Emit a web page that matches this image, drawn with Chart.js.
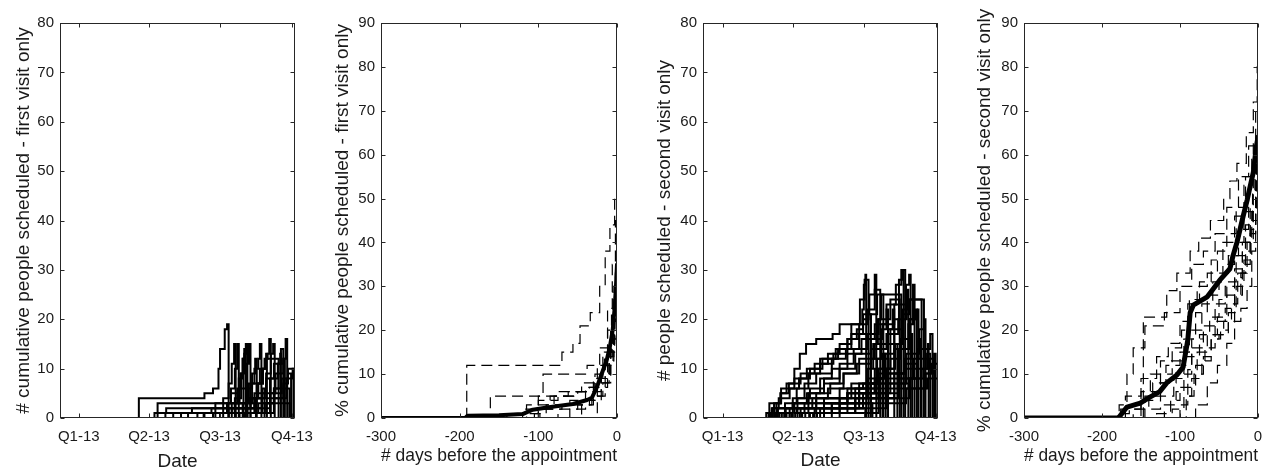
<!DOCTYPE html>
<html><head><meta charset="utf-8">
<script src="https://cdn.jsdelivr.net/npm/chart.js@4.4.0/dist/chart.umd.min.js"></script>
<style>
html,body{margin:0;padding:0;background:#fff;}
#wrap{position:relative;width:1284px;height:474px;overflow:hidden;background:#fff;}
canvas{position:absolute;top:0;}
</style></head><body>
<div id="wrap">
<canvas id="c1" width="320" height="474" style="left:0px"></canvas>
<canvas id="c2" width="320" height="474" style="left:320px"></canvas>
<canvas id="c3" width="320" height="474" style="left:640px"></canvas>
<canvas id="c4" width="324" height="474" style="left:960px"></canvas>
</div>
<script>
// ---------- tick labels ----------
const dateTickDays = [0, 90, 181, 273];               // days since 1 Jan 2013
const dateTickLabels = ['Q1-13', 'Q2-13', 'Q3-13', 'Q4-13'];

// ---------- panel 1: # cumulative people scheduled - first visit only ([day, count]) ----------
const firstVisitCounts = [
  [[-24,0],[77,4],[161,5],[172,6],[179,10],[181,14],[187,18],[190,19],[192,0]],
  [[-24,0],[111,1],[170,2],[185,4],[192,7],[196,11],[199,15],[201,0]],
  [[-24,0],[97,1],[112,2],[190,3],[195,6],[200,10],[203,15],[205,0]],
  [[-24,0],[131,1],[175,3],[195,5],[205,8],[210,12],[212,14],[214,0]],
  [[-24,0],[152,1],[185,2],[200,4],[208,9],[212,13],[214,15],[216,0]],
  [[-24,0],[161,1],[190,3],[206,6],[214,11],[218,15],[220,0]],
  [[-24,0],[101,3],[210,3],[218,7],[225,10],[230,12],[232,15],[234,0]],
  [[-24,0],[172,1],[200,3],[222,7],[232,10],[238,12],[242,13],[244,16],[246,0]],
  [[-24,0],[181,1],[215,4],[230,7],[236,10],[240,12],[256,0]],
  [[-24,0],[192,2],[225,5],[240,8],[250,11],[262,12],[265,16],[267,0]],
  [[-24,0],[201,1],[240,3],[250,6],[270,0]],
  [[-24,0],[206,1],[230,3],[270,0]],
  [[-24,0],[216,2],[245,5],[260,8],[268,10],[275,0]],
  [[-24,0],[121,1],[145,2],[226,4],[227,0]],
  [[-24,0],[196,2],[220,4],[240,9],[246,13],[249,15],[251,0]],
  [[-24,0],[212,1],[235,3],[250,6],[256,11],[259,14],[262,0]],
  [[-24,0],[175,1],[200,3],[215,6],[222,9],[226,12],[228,0]],
  [[-24,0],[185,1],[210,3],[228,7],[236,10],[240,13],[241,0]],
  [[-24,0],[140,1],[190,2],[220,4],[235,6],[238,0]],
  [[-24,0],[192,1],[225,4],[245,8],[255,11],[258,13],[259,0]],
  [[-24,0],[200,2],[235,5],[252,9],[262,12],[264,0]],
  [[-24,0],[210,1],[245,4],[262,7],[268,9],[272,0]],
  [[-24,0],[160,1],[196,3],[203,6],[207,9],[210,12],[211,0]],
  [[-24,0],[220,1],[250,4],[266,8],[274,10],[276,0]]
];

// ---------- panel 2: % cumulative first visit ([days before, %]) ----------
const firstVisitPctMean = [[-300,0],[-193,0],[-190,0.5],[-150,0.6],[-120,0.9],[-107,1.9],[-89,2.4],[-56,3.2],[-38,4.1],[-32,4.6],[-26,6.8],[-20,9.8],[-13,13.2],[-9,16.3],[-5.5,20],[-3,25],[-1.3,30],[0,35]];
const firstVisitPctSeries = [
  [[-300,0],[-191,12],[-70,15],[-56,17],[-47,21],[-34,24],[-22,30],[-15,38],[-9,44],[-3,50],[0,50]],
  [[-300,0],[-161,5],[-94,10],[-38,12],[-22,16],[-12,25],[-6,35],[-2,45],[0,46]],
  [[-300,0],[-120,2],[-100,4],[-75,6],[-45,8],[-25,12],[-12,20],[-5,30],[0,36]],
  [[-300,0],[-105,1],[-90,3],[-60,4],[-40,6],[-28,9],[-15,14],[-6,22],[-2,30],[0,33]],
  [[-300,0],[-140,1],[-100,2],[-70,3],[-35,4],[-20,8],[-10,14],[-4,22],[0,28]],
  [[-300,0],[-98,2],[-80,5],[-50,6],[-30,9],[-18,14],[-8,20],[-3,27],[0,30]],
  [[-300,0],[-25,5],[-15,10],[-8,17],[-3,25],[0,32]],
  [[-300,0],[-60,2],[-40,4],[-25,7],[-12,12],[-5,18],[-1,26],[0,26]],
  [[-300,0],[-45,3],[-30,5],[-18,8],[-8,15],[-3,20],[0,24]],
  [[-300,0],[-115,3],[-85,5],[-55,6],[-35,7],[-20,10],[-10,16],[-4,25],[0,40]],
  [[-300,0],[-75,2],[-50,3],[-32,6],[-20,9],[-10,13],[-4,18],[0,22]],
  [[-300,0],[-100,5],[-62,6],[-40,7],[-28,10],[-16,15],[-7,24],[-2,33],[0,42]]
];

// ---------- panel 3: # people scheduled - second visit only ([day, count]) ----------
const secondVisitCounts = [
  [[-25,0],[69,3],[75,5],[82,7],[92,10],[99,13],[107,15],[120,16],[141,17],[150,19],[179,22],[181,27],[183,29],[184,0]],
  [[-25,0],[59,1],[66,3],[74,5],[85,7],[100,9],[118,11],[135,13],[150,15],[165,19],[176,24],[182,28],[187,0]],
  [[-25,0],[63,2],[72,4],[86,6],[98,8],[112,10],[128,12],[148,14],[165,17],[180,21],[188,25],[195,29],[197,0]],
  [[-25,0],[66,1],[80,3],[95,6],[110,9],[125,11],[142,13],[160,16],[175,19],[185,22],[195,26],[202,0]],
  [[-25,0],[71,2],[90,4],[105,7],[120,9],[140,12],[158,14],[175,17],[190,21],[198,25],[229,0]],
  [[-25,0],[76,1],[92,3],[108,5],[125,8],[140,10],[160,13],[178,16],[195,19],[210,23],[222,27],[229,30],[232,0]],
  [[-25,0],[81,2],[96,4],[112,6],[130,8],[150,11],[168,14],[185,17],[200,20],[215,24],[226,28],[231,30],[234,0]],
  [[-25,0],[56,1],[70,2],[90,3],[110,5],[130,7],[150,10],[170,13],[190,16],[205,19],[220,23],[235,27],[239,29],[241,0]],
  [[-25,0],[89,1],[105,3],[120,5],[138,7],[155,9],[172,11],[190,14],[210,17],[225,20],[236,24],[244,27],[246,0]],
  [[-25,0],[96,2],[115,4],[135,6],[155,9],[175,12],[195,15],[215,18],[230,21],[240,24],[258,0]],
  [[-25,0],[61,1],[80,2],[110,4],[150,6],[180,7],[200,9],[215,12],[228,16],[240,20],[247,22],[249,0]],
  [[-25,0],[101,1],[130,3],[160,5],[190,7],[215,9],[235,11],[250,14],[266,17],[269,0]],
  [[-25,0],[73,1],[95,2],[140,3],[190,4],[220,6],[240,8],[255,10],[265,12],[271,13],[273,0]],
  [[-25,0],[111,1],[150,3],[190,5],[215,7],[240,8],[260,9],[268,11],[276,0]],
  [[-25,0],[68,1],[100,2],[183,0]],
  [[-25,0],[64,2],[90,3],[192,0]],
  [[-25,0],[79,1],[110,2],[150,4],[175,6],[200,8],[205,0]],
  [[-25,0],[86,2],[120,4],[160,5],[190,7],[210,10],[221,15],[224,0]],
  [[-25,0],[93,1],[130,3],[170,6],[200,10],[220,14],[238,19],[244,24],[255,0]],
  [[-25,0],[106,1],[140,2],[180,4],[210,7],[235,10],[262,13],[266,0]],
  [[-25,0],[116,1],[160,2],[210,4],[240,6],[262,8],[276,0]],
  [[-25,0],[60,3],[75,6],[92,8],[108,10],[125,12],[145,14],[160,16],[172,18],[180,20],[187,21],[190,0]],
  [[-25,0],[121,1],[170,3],[200,5],[225,8],[245,12],[251,16],[254,0]],
  [[-25,0],[99,1],[125,2],[170,4],[200,6],[220,9],[233,12],[241,17],[243,0]],
  [[-25,0],[82,1],[120,3],[160,6],[185,10],[193,15],[199,20],[203,25],[206,0]],
  [[-25,0],[90,2],[130,4],[165,7],[190,12],[203,18],[210,22],[212,0]],
  [[-25,0],[102,1],[140,3],[175,7],[198,12],[212,18],[218,22],[220,0]],
  [[-25,0],[112,1],[150,4],[185,8],[205,13],[220,20],[226,24],[227,0]],
  [[-25,0],[118,2],[160,5],[195,10],[215,15],[230,22],[236,26],[238,0]],
  [[-25,0],[125,1],[170,4],[200,8],[225,14],[240,20],[250,22],[251,0]],
  [[-25,0],[130,2],[175,5],[210,9],[235,13],[252,18],[259,20],[260,0]],
  [[-25,0],[140,1],[190,4],[225,8],[250,12],[263,15],[264,0]],
  [[-25,0],[150,1],[200,3],[235,6],[260,9],[270,12],[271,0]],
  [[-25,0],[86,1],[140,2],[180,5],[195,8],[208,13],[209,0]]
];

// ---------- panel 4: % cumulative second visit ([days before, %]) ----------
const secondVisitPctMean = [[-300,0],[-179,0],[-168,2.5],[-151,3.4],[-138,4.8],[-126,6],[-117,8],[-104,9.8],[-96,11.6],[-90,17.8],[-87,24],[-83,25.7],[-65,27.6],[-49,31.4],[-36,34],[-32,37],[-27,40],[-19,46],[-14,49.6],[-6,56],[-2,62],[0,64]];
const secondVisitPctSeries = [
  [[-300,0],[-147,23],[-117,29],[-104,33],[-87,38],[-76,41],[-61,45],[-44,50],[-36,54],[-27,58],[-15,65],[-6,72],[-1,80],[0,80]],
  [[-300,0],[-178,3],[-168,10],[-160,16],[-145,21],[-120,24],[-100,30],[-85,35],[-70,38],[-55,42],[-40,48],[-25,55],[-12,62],[-3,70],[0,72]],
  [[-300,0],[-170,5],[-150,9],[-130,14],[-115,17],[-100,22],[-88,27],[-75,31],[-60,36],[-45,40],[-30,46],[-18,53],[-8,60],[0,66]],
  [[-300,0],[-160,2],[-140,6],[-125,10],[-110,13],[-95,18],[-80,24],[-65,28],[-50,33],[-38,37],[-25,43],[-12,52],[-4,60],[0,64]],
  [[-300,0],[-176,2],[-150,4],[-135,8],[-118,12],[-100,15],[-88,20],[-72,26],[-58,31],[-45,35],[-30,40],[-18,47],[-6,55],[0,62]],
  [[-300,0],[-145,2],[-125,5],[-108,9],[-95,12],[-85,16],[-70,21],[-55,26],[-42,30],[-30,34],[-20,40],[-10,48],[-3,57],[0,60]],
  [[-300,0],[-130,1],[-112,4],[-100,7],[-90,11],[-78,15],[-65,19],[-52,23],[-40,28],[-30,32],[-20,38],[-10,45],[-3,52],[0,56]],
  [[-300,0],[-110,2],[-95,5],[-85,9],[-72,13],[-60,18],[-48,20],[-38,24],[-28,30],[-18,36],[-9,43],[-3,50],[0,54]],
  [[-300,0],[-100,3],[-90,7],[-80,12],[-68,16],[-55,19],[-44,22],[-34,26],[-26,33],[-16,40],[-8,47],[-2,56],[0,58]],
  [[-300,0],[-180,1],[-165,3],[-145,5],[-125,8],[-105,11],[-95,14],[-85,18],[-70,19],[-55,22],[-42,25],[-30,28],[-20,35],[-10,42],[-3,50],[0,52]],
  [[-300,0],[-92,5],[-82,10],[-70,14],[-60,18],[-50,19],[-38,22],[-30,28],[-22,33],[-14,40],[-6,48],[0,50]],
  [[-300,0],[-120,3],[-105,6],[-95,10],[-85,14],[-75,19],[-62,23],[-50,27],[-40,31],[-28,37],[-16,44],[-7,52],[-2,60],[0,68]],
  [[-300,0],[-150,6],[-138,10],[-125,13],[-110,16],[-98,20],[-90,26],[-78,30],[-65,33],[-52,38],[-40,42],[-28,48],[-16,55],[-6,63],[0,70]],
  [[-300,0],[-80,3],[-65,8],[-52,12],[-40,17],[-30,22],[-22,25],[-14,30],[-8,38],[-3,45],[0,48]]
];

// ---------- rendering ----------
const FONT = "'Liberation Sans', Arial, Helvetica, sans-serif";
const INK = '#1a1a1a';
Chart.defaults.font.family = FONT;
Chart.defaults.color = INK;

const matlabBox = {
  id: 'matlabBox',
  afterDatasetsDraw(chart) {
    const {ctx, chartArea: a, scales: {x, y}} = chart;
    ctx.save();
    ctx.strokeStyle = '#262626';
    ctx.lineWidth = 1;
    const l = Math.round(a.left) + 0.5, r = Math.round(a.right) - 0.5;
    const t = Math.round(a.top) + 0.5, b = Math.round(a.bottom) - 0.5;
    ctx.strokeRect(l, t, r - l, b - t);
    const L = 4;
    ctx.beginPath();
    x.ticks.forEach(tk => {
      const px = Math.round(x.getPixelForValue(tk.value)) + 0.5;
      ctx.moveTo(px, b); ctx.lineTo(px, b - L);
      ctx.moveTo(px, t); ctx.lineTo(px, t + L);
    });
    y.ticks.forEach(tk => {
      const py = Math.round(y.getPixelForValue(tk.value)) + 0.5;
      ctx.moveTo(l, py); ctx.lineTo(l + L, py);
      ctx.moveTo(r, py); ctx.lineTo(r - L, py);
    });
    ctx.stroke();
    ctx.restore();
  }
};

function toXY(s) { return s.map(([x, y]) => ({x, y})); }

function solidSteps(series) {
  return series.map(s => ({
    data: toXY(s), borderColor: '#000', borderWidth: 2, stepped: 'before',
    pointRadius: 0, fill: false
  }));
}
function dashedSteps(series) {
  return series.map(s => ({
    data: toXY(s), borderColor: '#000', borderWidth: 1.2, borderDash: [11, 6], stepped: 'before',
    pointRadius: 0, fill: false
  }));
}
function meanLine(s, w) {
  return {data: toXY(s), borderColor: '#000', borderWidth: w, pointRadius: 0, fill: false,
          borderCapStyle: 'round', borderJoinStyle: 'round'};
}

function build(id, o) {
  const xScale = {
    type: 'linear', min: o.xMin, max: o.xMax,
    grid: {display: false, drawTicks: false}, border: {display: false},
    ticks: {font: {size: 15}, padding: 10, maxRotation: 0, autoSkip: false, color: INK},
    afterFit: s => { s.height = 56; s.paddingLeft = 0; s.paddingRight = 0; },
    title: {display: true, text: o.xTitle, font: {size: 19}, color: INK, padding: {top: 0, bottom: o.xTitlePad}}
  };
  if (o.dateAxis) {
    xScale.afterBuildTicks = s => { s.ticks = dateTickDays.map(v => ({value: v})); };
    xScale.ticks.callback = v => dateTickLabels[dateTickDays.indexOf(v)];
  } else {
    xScale.ticks.stepSize = 100;
  }
  return new Chart(document.getElementById(id), {
    type: 'line',
    data: {datasets: o.datasets},
    options: {
      responsive: false, animation: false, devicePixelRatio: 1,
      layout: {padding: {left: o.padLeft, right: o.padRight, top: 23, bottom: 0}},
      plugins: {legend: {display: false}, tooltip: {enabled: false}},
      elements: {point: {radius: 0}, line: {tension: 0}},
      scales: {
        x: xScale,
        y: {
          min: 0, max: o.yMax,
          grid: {display: false, drawTicks: false}, border: {display: false},
          ticks: {stepSize: 10, padding: 6, font: {size: 15}, color: INK},
          afterFit: s => { s.width = o.yWidth; s.paddingTop = 0; s.paddingBottom = 0; },
          title: {display: true, text: o.yTitle, font: {size: 19}, color: INK, padding: {top: 0, bottom: 0}}
        }
      }
    },
    plugins: [matlabBox]
  });
}

build('c1', {
  datasets: solidSteps(firstVisitCounts),
  xMin: -24, xMax: 277, yMax: 80, dateAxis: true,
  xTitle: 'Date', xTitlePad: 1,
  yTitle: '# cumulative people scheduled - first visit only',
  padLeft: 12, yWidth: 48, padRight: 25
});
build('c2', {
  datasets: [meanLine(firstVisitPctMean, 4)].concat(dashedSteps(firstVisitPctSeries)),
  xMin: -300, xMax: 0, yMax: 90, dateAxis: false,
  xTitle: '# days before the appointment', xTitlePad: 7,
  yTitle: '% cumulative people scheduled - first visit only',
  padLeft: 11, yWidth: 50, padRight: 23
});
build('c3', {
  datasets: solidSteps(secondVisitCounts),
  xMin: -25, xMax: 276, yMax: 80, dateAxis: true,
  xTitle: 'Date', xTitlePad: 2,
  yTitle: '# people scheduled - second visit only',
  padLeft: 13, yWidth: 50, padRight: 22
});
build('c4', {
  datasets: [meanLine(secondVisitPctMean, 5)].concat(dashedSteps(secondVisitPctSeries)),
  xMin: -300, xMax: 0, yMax: 90, dateAxis: false,
  xTitle: '# days before the appointment', xTitlePad: 7,
  yTitle: '% cumulative people scheduled - second visit only',
  padLeft: 13, yWidth: 51, padRight: 26
});
</script>
</body></html>
